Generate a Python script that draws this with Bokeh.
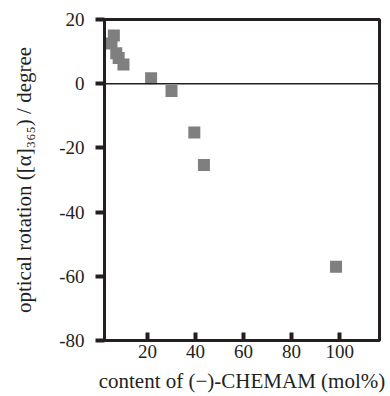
from bokeh.plotting import figure
from bokeh.models import Range1d, Span, FixedTicker
from bokeh.embed import file_html
from bokeh.resources import INLINE

# CHEMAM content (mol%) and measured optical rotation at 365 nm (degree)
content = [5, 6, 7, 8, 10, 21.5, 30, 39.5, 43.5, 98.5]
rotation = [12.5, 15, 9.5, 8, 6, 1.7, -2.3, -15.2, -25.3, -57]

x_ticks = [20, 40, 60, 80, 100]
y_ticks = [-80, -60, -40, -20, 0, 20]
y_tick_labels = ["-80", "-60", "-40", "-20", "0", "20"]

FONT = "Liberation Serif"
INK = "#231f20"

p = figure(
    width=390, height=396,
    x_range=Range1d(2.1, 116.6), y_range=Range1d(-80, 20),
    output_backend="svg", toolbar_location=None,
    min_border_left=104, min_border_right=11,
    min_border_top=19, min_border_bottom=56,
)
p.grid.visible = False
p.background_fill_color = "white"
p.border_fill_color = "white"
p.outline_line_color = INK
p.outline_line_width = 3

# zero reference line
p.add_layout(Span(location=0, dimension="width", line_color=INK, line_width=1.5))

p.scatter(content, rotation, marker="square", size=12,
          fill_color="#7f7f7f", line_color=None)

xa = p.xaxis[0]
xa.ticker = FixedTicker(ticks=x_ticks)
xa.axis_label = "content of (\u2212)-CHEMAM (mol%)"
xa.major_tick_in = 8
xa.major_tick_out = 0
xa.minor_tick_in = 0
xa.minor_tick_out = 0
xa.major_label_standoff = 4
xa.axis_label_standoff = 8

ya = p.yaxis[0]
ya.ticker = FixedTicker(ticks=y_ticks)
ya.major_label_overrides = {t: s for t, s in zip(y_ticks, y_tick_labels)}
ya.axis_label = "optical rotation ([\u03b1]\u2083\u2086\u2085) / degree"
ya.major_tick_in = 0
ya.major_tick_out = 9
ya.minor_tick_in = 0
ya.minor_tick_out = 0
ya.major_label_standoff = 11
ya.axis_label_standoff = 20

for ax in (xa, ya):
    ax.axis_line_color = INK
    ax.axis_line_width = 3
    ax.major_tick_line_color = INK
    ax.major_tick_line_width = 4
    ax.major_label_text_font = FONT
    ax.major_label_text_font_size = "19px"
    ax.major_label_text_color = INK
    ax.axis_label_text_font = FONT
    ax.axis_label_text_font_size = "21px"
    ax.axis_label_text_font_style = "normal"
    ax.axis_label_text_color = INK

open("out.html", "w").write(file_html(p, INLINE))
